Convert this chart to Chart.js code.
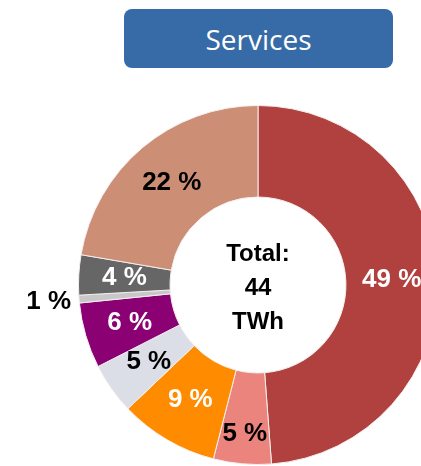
<!DOCTYPE html>
<html>
<head>
<meta charset="utf-8">
<script src="https://cdn.jsdelivr.net/npm/chart.js@4"></script>
<style>
  html, body { margin: 0; padding: 0; background: #fff; overflow: hidden; width: 421px; height: 466px; }
  #title {
    position: absolute; left: 124px; top: 9px; width: 269px; height: 59px;
    background: #376ba7; border-radius: 8px; color: #fff;
    font: 28px "Open Sans", sans-serif; text-align: center; line-height: 60px;
  }
  #wrap { position: absolute; left: 0; top: 0; width: 516px; height: 466px; }
</style>
</head>
<body>
<div id="title">Services</div>
<div id="wrap"><canvas id="myChart_Services" width="516" height="466"></canvas></div>
<script>
// shares of final energy use, in percent (clockwise from 12 o'clock)
const categories = ["A", "B", "C", "D", "E", "F", "G", "H"]
const shares = [48.8, 5.2, 8.9, 4.6, 5.9, 0.7, 3.6, 22.3]
const centerLines = ["Total:", "44", "TWh"]

const sliceColors = ["#b0413e", "#ec847e", "#ff8c00", "#dcdee7", "#8b0073", "#c8c8c8", "#666666", "#cd8e76"]
const labelColors = ["#fff", "#000", "#fff", "#000", "#fff", "#000", "#fff", "#000"]
// where each label sits: 1 = middle of the ring
const labelRadius = [1, 1.12, 1, 1, 1, 1.57, 1, 1]

const sliceLabels = {
  id: "sliceLabels",
  afterDatasetsDraw(chart) {
    const ctx = chart.ctx
    const arcs = chart.getDatasetMeta(0).data
    ctx.save()
    ctx.font = "bold 26px 'Liberation Sans', Arial, sans-serif"
    ctx.textAlign = "center"
    ctx.textBaseline = "middle"
    arcs.forEach((arc, i) => {
      const p = arc.getProps(["x", "y", "startAngle", "endAngle", "innerRadius", "outerRadius"], true)
      const mid = (p.startAngle + p.endAngle) / 2
      const r = (p.innerRadius + p.outerRadius) / 2 * labelRadius[i]
      ctx.fillStyle = labelColors[i]
      ctx.fillText(Math.round(shares[i]) + " %", p.x + Math.cos(mid) * r, p.y + Math.sin(mid) * r)
    })
    // text in the hole
    const c = arcs[0]
    ctx.fillStyle = "#000"
    ctx.font = "bold 24px 'Liberation Sans', Arial, sans-serif"
    centerLines.forEach((t, i) => {
      ctx.fillText(t, c.x, c.y - 31 + i * 34)
    })
    ctx.restore()
  }
}

const servicesGraph = () => {
  new Chart(document.getElementById("myChart_Services"), {
    type: "doughnut",
    data: {
      labels: categories,
      datasets: [
        {
          data: shares,
          backgroundColor: sliceColors,
          borderColor: "#f4eeee",
          borderWidth: 1,
        },
      ],
    },
    options: {
      responsive: false,
      animation: false,
      cutout: "49%",
      layout: { padding: { left: 78, right: 78, top: 105, bottom: 1 } },
      plugins: {
        legend: { display: false },
        tooltip: { enabled: false },
      },
    },
    plugins: [sliceLabels],
  })
}

window.addEventListener("load", servicesGraph)
</script>
</body>
</html>
